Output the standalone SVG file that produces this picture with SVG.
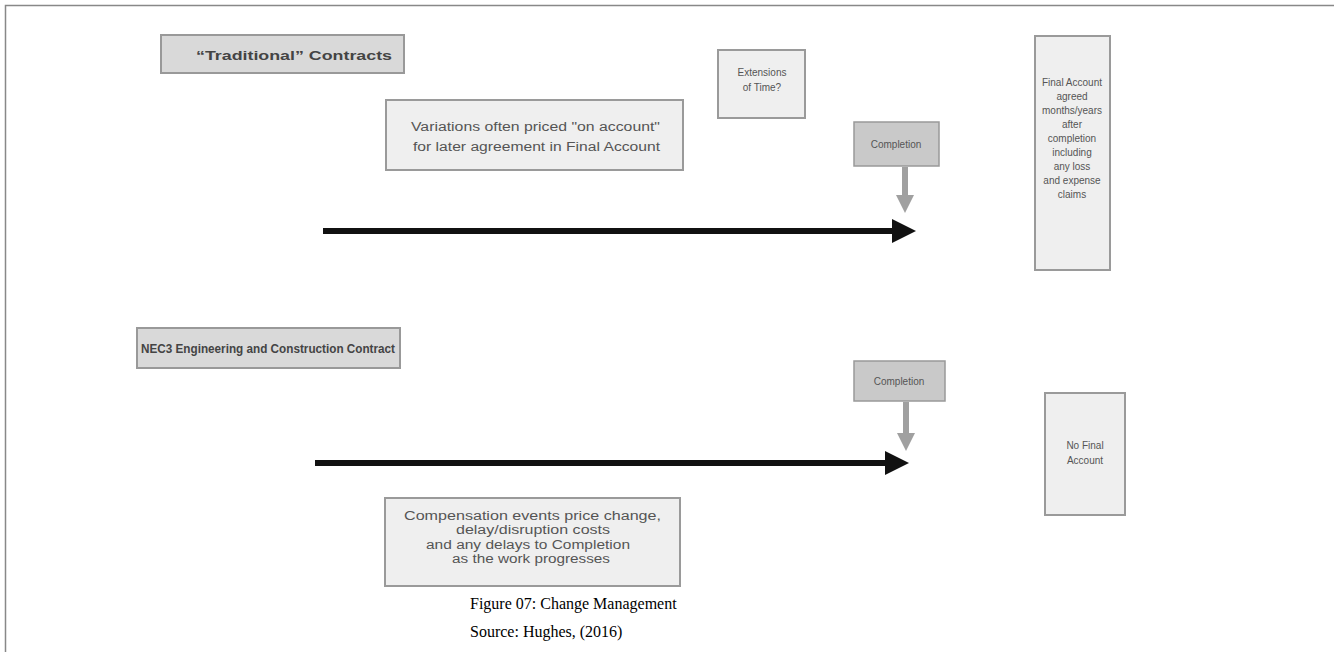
<svg xmlns="http://www.w3.org/2000/svg" width="1334" height="652" viewBox="0 0 1334 652">
<style>
.box{fill:#efefef;stroke:#9a9a9a;stroke-width:2}
.hdr{fill:#d9d9d9;stroke:#999;stroke-width:2}
.cmp{fill:#c9c9c9;stroke:#999;stroke-width:1.5}
.t{font-family:"Liberation Sans",Arial,sans-serif;font-size:10px;fill:#555;text-anchor:middle}
.tb{font-family:"Liberation Sans",Arial,sans-serif;font-size:12.5px;fill:#555}
.th{font-family:"Liberation Sans",Arial,sans-serif;font-size:12px;font-weight:bold;fill:#444}
.cap{font-family:"Liberation Serif","Times New Roman",serif;font-size:16px;fill:#000}
</style>
<defs>
<marker id="ah" markerWidth="4" markerHeight="4" refX="0.5" refY="2" orient="auto" markerUnits="strokeWidth"><path d="M0,0 L4,2 L0,4 z" fill="#111"/></marker>
<marker id="gh" markerWidth="3" markerHeight="3" refX="0.5" refY="1.5" orient="auto" markerUnits="strokeWidth"><path d="M0,0 L3,1.5 L0,3 z" fill="#a0a0a0"/></marker>
</defs>
<rect width="1334" height="652" fill="#fff"/>
<path d="M5.5,652 V5.5 H1334" fill="none" stroke="#888" stroke-width="1.5"/>
<g id="connectors">
<line x1="323" y1="231" x2="895" y2="231" stroke="#111" stroke-width="6" marker-end="url(#ah)"/>
<line x1="315" y1="463" x2="888" y2="463" stroke="#111" stroke-width="6" marker-end="url(#ah)"/>
<line x1="905" y1="167" x2="905" y2="198" stroke="#a0a0a0" stroke-width="6" marker-end="url(#gh)"/>
<line x1="906" y1="402" x2="906" y2="436" stroke="#a0a0a0" stroke-width="6" marker-end="url(#gh)"/>
</g>
<g id="traditional">
<rect class="hdr" x="161" y="35" width="243" height="38"/>
<text class="th" x="196" y="60" font-size="14.5" textLength="196" lengthAdjust="spacingAndGlyphs">“Traditional” Contracts</text>
</g>
<g id="variations">
<rect class="box" x="386" y="100" width="297" height="70"/>
<text class="tb" x="411" y="131" textLength="249" lengthAdjust="spacingAndGlyphs">Variations often priced "on account"</text>
<text class="tb" x="413" y="151" textLength="247" lengthAdjust="spacingAndGlyphs">for later agreement in Final Account</text>
</g>
<g id="extensions">
<rect class="box" x="718" y="50" width="87" height="68"/>
<text class="t" x="762" y="76" font-size="10.5">Extensions</text>
<text class="t" x="762" y="91" font-size="10.5">of Time?</text>
</g>
<g id="completion1">
<rect class="cmp" x="854" y="122" width="85" height="44"/>
<text class="t" x="896" y="148" font-size="11">Completion</text>
</g>
<g id="finalaccount">
<rect class="box" x="1035" y="36" width="75" height="234"/>
<text class="t" x="1072" y="86">Final Account</text>
<text class="t" x="1072" y="100">agreed</text>
<text class="t" x="1072" y="114">months/years</text>
<text class="t" x="1072" y="128">after</text>
<text class="t" x="1072" y="142">completion</text>
<text class="t" x="1072" y="156">including</text>
<text class="t" x="1072" y="170">any loss</text>
<text class="t" x="1072" y="184">and expense</text>
<text class="t" x="1072" y="198">claims</text>
</g>
<g id="nec3">
<rect class="hdr" x="137" y="328" width="263" height="40"/>
<text class="th" x="141" y="353" textLength="254" lengthAdjust="spacingAndGlyphs">NEC3 Engineering and Construction Contract</text>
</g>
<g id="completion2">
<rect class="cmp" x="854" y="361" width="91" height="40"/>
<text class="t" x="899" y="385" font-size="11">Completion</text>
</g>
<g id="nofinal">
<rect class="box" x="1045" y="393" width="80" height="122"/>
<text class="t" x="1085" y="449">No Final</text>
<text class="t" x="1085" y="464">Account</text>
</g>
<g id="compensation">
<rect class="box" x="385" y="498" width="295" height="88"/>
<text class="tb" x="404" y="520" textLength="257" lengthAdjust="spacingAndGlyphs">Compensation events price change,</text>
<text class="tb" x="456" y="534" textLength="154" lengthAdjust="spacingAndGlyphs">delay/disruption costs</text>
<text class="tb" x="426" y="549" textLength="204" lengthAdjust="spacingAndGlyphs">and any delays to Completion</text>
<text class="tb" x="452" y="563" textLength="158" lengthAdjust="spacingAndGlyphs">as the work progresses</text>
</g>
<g id="caption">
<text class="cap" x="470" y="609">Figure 07: Change Management</text>
<text class="cap" x="470" y="637">Source: Hughes, (2016)</text>
</g>
</svg>
